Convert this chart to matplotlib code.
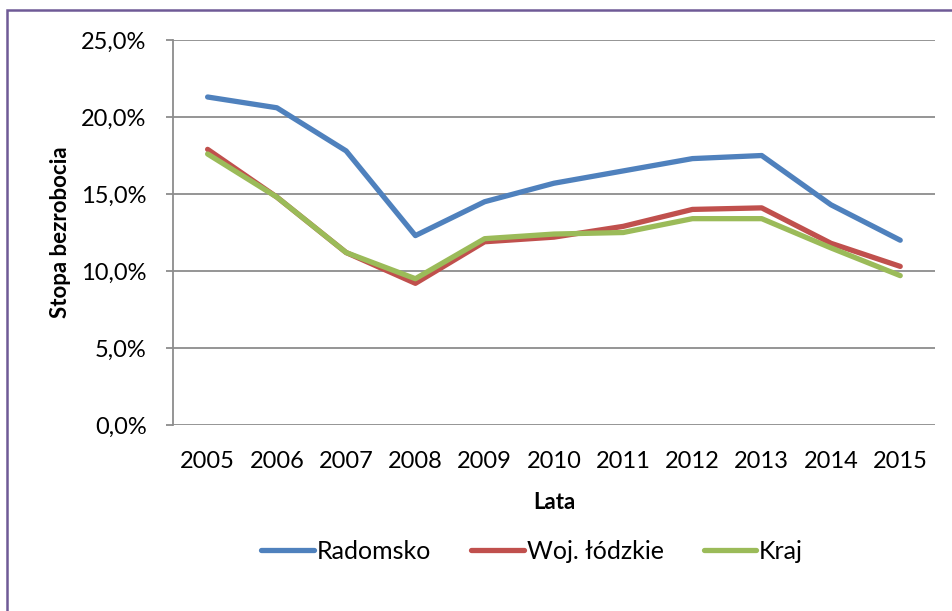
import numpy as np
import matplotlib.pyplot as plt
from matplotlib.patches import Rectangle
from matplotlib.ticker import FuncFormatter

plt.rcParams['font.family'] = ['Lato', 'DejaVu Sans']

years = ['2005', '2006', '2007', '2008', '2009', '2010', '2011', '2012', '2013', '2014', '2015']
radomsko = [21.3, 20.6, 17.8, 12.3, 14.5, 15.7, 16.5, 17.3, 17.5, 14.3, 12.0]
wojewodztwo = [17.9, 14.8, 11.2, 9.2, 11.9, 12.2, 12.9, 14.0, 14.1, 11.8, 10.3]
kraj = [17.6, 14.8, 11.2, 9.5, 12.1, 12.4, 12.5, 13.4, 13.4, 11.5, 9.7]

fig = plt.figure(figsize=(9.52, 6.11), dpi=100)
ax = fig.add_axes([0.1817, 0.3044, 0.8003, 0.6301])

x = np.arange(len(years))
lw = 3.8
ax.plot(x, radomsko, color='#4F81BD', linewidth=lw, solid_capstyle='round', label='Radomsko')
ax.plot(x, wojewodztwo, color='#C0504D', linewidth=lw, solid_capstyle='round', label='Woj. łódzkie')
ax.plot(x, kraj, color='#9BBB59', linewidth=lw, solid_capstyle='round', label='Kraj')

ax.set_xlim(-0.5, len(years) - 0.5)
ax.set_ylim(0, 25)
ax.set_yticks(np.arange(0, 26, 5))
ax.yaxis.set_major_formatter(FuncFormatter(lambda v, p: ('%.1f%%' % v).replace('.', ',')))
ax.set_xticks(x)
ax.set_xticklabels(years)

ax.grid(axis='y', color='#8C8C8C', linewidth=1.3)
ax.set_axisbelow(True)
for s in ['top', 'right', 'bottom']:
    ax.spines[s].set_visible(False)
ax.spines['left'].set_color('#8C8C8C')
ax.spines['left'].set_linewidth(1.3)

ax.tick_params(axis='y', length=5, color='#8C8C8C', width=1.3, labelsize=17, pad=14)
ax.tick_params(axis='x', length=0, labelsize=17, pad=19)

ax.set_xlabel('Lata', fontsize=16, fontweight='bold', labelpad=14)
ax.set_ylabel('Stopa bezrobocia', fontsize=16, fontweight='bold', labelpad=7)

fig.legend(loc='center', bbox_to_anchor=(0.559, 0.098), ncol=3, frameon=False,
           fontsize=18, handlelength=2.1, handletextpad=0.12, columnspacing=1.6)

fig.patches.append(Rectangle((7 / 952, -0.1), 1.2, 1.0836, transform=fig.transFigure,
                             fill=False, edgecolor='#6F5A96', linewidth=1.8))

fig.savefig('out.png', dpi=100)
